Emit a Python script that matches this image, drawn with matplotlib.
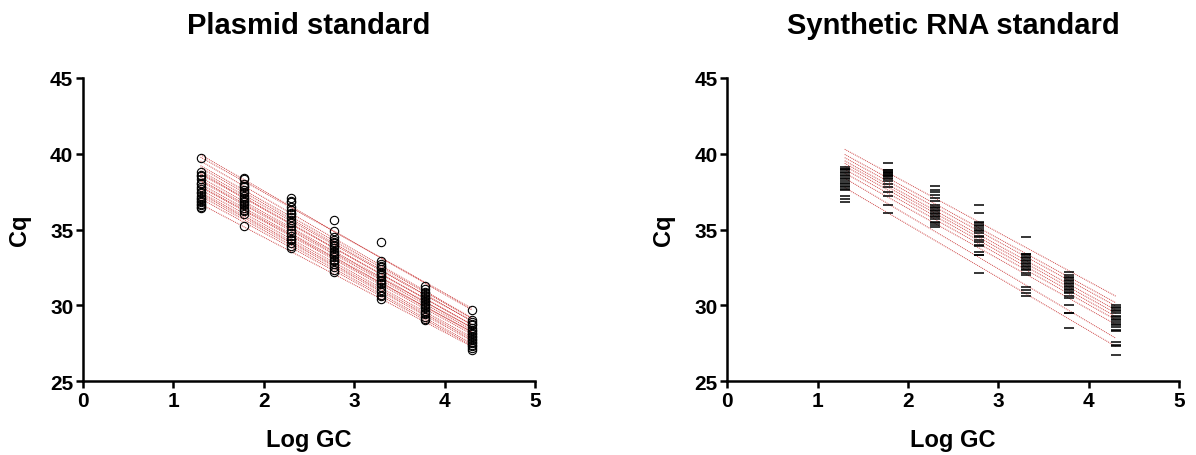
import numpy as np
import matplotlib
matplotlib.use("Agg")
import matplotlib.pyplot as plt

plt.rcParams['font.family'] = ['Liberation Sans', 'DejaVu Sans']
plt.rcParams['font.weight'] = 'bold'

# log10 of gene copies for each dilution level
log_gc = [1.30, 1.78, 2.30, 2.78, 3.30, 3.78, 4.30]

# plasmid standard: one row per run (Cq at each level)
plasmid_cq = [
    [39.7, 38.0, 36.9, 35.6, 32.9, 31.1, 29.7],
    [38.8, 38.4, 37.1, 34.9, 34.2, 31.3, 29.0],
    [38.6, 38.3, 36.8, 34.5, 32.7, 30.9, 28.8],
    [38.5, 37.9, 36.5, 34.3, 32.5, 30.8, 28.9],
    [38.3, 37.8, 36.3, 34.2, 32.4, 30.6, 28.7],
    [38.1, 37.6, 36.1, 34.0, 32.6, 30.7, 28.5],
    [38.0, 37.4, 36.0, 33.9, 32.2, 30.4, 28.4],
    [37.8, 37.5, 35.8, 34.1, 32.0, 30.5, 28.3],
    [37.7, 37.2, 35.6, 33.8, 31.9, 30.2, 28.2],
    [37.5, 37.1, 35.4, 33.6, 32.1, 30.3, 28.0],
    [37.4, 37.0, 35.5, 33.5, 31.7, 30.0, 28.1],
    [37.2, 36.9, 35.2, 33.3, 31.6, 29.9, 27.9],
    [37.1, 36.7, 35.0, 33.4, 31.4, 30.1, 27.8],
    [37.0, 36.8, 34.8, 33.2, 31.5, 29.8, 27.7],
    [36.9, 36.6, 34.6, 33.0, 31.2, 29.6, 27.6],
    [36.8, 36.4, 34.4, 32.9, 31.0, 29.5, 27.5],
    [36.7, 36.3, 34.3, 32.7, 30.9, 29.4, 27.4],
    [36.6, 36.2, 34.1, 32.5, 30.7, 29.2, 27.3],
    [36.5, 36.0, 33.9, 32.3, 30.6, 29.1, 27.2],
    [36.4, 35.2, 33.8, 32.2, 30.4, 29.0, 27.05],
]

# synthetic RNA standard: two replicates per run
rna_rep1 = [
    [39.1, 39.4, 37.9, 36.6, 34.5, 32.2, 30.0],
    [39.0, 38.9, 37.5, 35.5, 33.4, 31.9, 29.8],
    [38.8, 38.8, 37.1, 35.3, 33.2, 31.7, 29.6],
    [38.6, 38.7, 36.6, 35.1, 33.0, 31.5, 29.3],
    [38.4, 38.6, 36.4, 34.9, 32.8, 31.3, 29.1],
    [38.2, 38.5, 36.2, 34.6, 32.6, 31.1, 28.9],
    [38.0, 38.3, 36.0, 34.3, 32.4, 30.9, 28.7],
    [37.8, 38.0, 35.8, 34.0, 32.1, 30.6, 28.4],
    [37.6, 37.5, 35.5, 33.5, 31.2, 30.0, 27.6],
    [36.8, 36.6, 35.3, 33.3, 30.8, 29.5, 27.3],
]
rna_rep2 = [
    [39.0, 38.9, 37.6, 36.1, 33.4, 32.0, 29.9],
    [38.9, 38.8, 37.3, 35.4, 33.3, 31.8, 29.7],
    [38.7, 38.7, 36.9, 35.2, 33.1, 31.6, 29.5],
    [38.5, 38.6, 36.5, 35.0, 32.9, 31.4, 29.2],
    [38.3, 38.5, 36.3, 34.8, 32.7, 31.2, 29.0],
    [38.1, 38.4, 36.1, 34.5, 32.5, 31.0, 28.8],
    [37.9, 38.2, 35.9, 34.2, 32.3, 30.8, 28.6],
    [37.7, 37.8, 35.7, 33.9, 32.0, 30.5, 28.3],
    [37.2, 37.2, 35.4, 33.3, 31.0, 29.5, 27.4],
    [37.0, 36.1, 35.15, 32.1, 30.6, 28.5, 26.7],
]

line_color = '#c83030'
x = np.array(log_gc)
xe = np.array([x.min(), x.max()])

fig = plt.figure(figsize=(11.96, 4.56), dpi=100)
ax1 = fig.add_axes([0.0694, 0.162, 0.378, 0.665])
ax2 = fig.add_axes([0.608, 0.162, 0.378, 0.665])

# plasmid
for run in plasmid_cq:
    y = np.array(run)
    k, b = np.polyfit(x, y, 1)
    ax1.plot(xe, k * xe + b, color=line_color, lw=0.7, ls=(0, (1, 1)), alpha=0.9, zorder=1)
for run in plasmid_cq:
    ax1.plot(x, run, 'o', ms=6, mfc='none', mec='black', mew=0.8, ls='none', zorder=2)

# synthetic RNA
for r1, r2 in zip(rna_rep1, rna_rep2):
    xx = np.concatenate([x, x])
    yy = np.concatenate([r1, r2])
    k, b = np.polyfit(xx, yy, 1)
    ax2.plot(xe, k * xe + b, color=line_color, lw=0.7, ls=(0, (1, 1)), alpha=0.9, zorder=1)
for r1, r2 in zip(rna_rep1, rna_rep2):
    ax2.plot(x, r1, '_', ms=7.5, mec='black', mew=1.1, ls='none', zorder=2)
    ax2.plot(x, r2, '_', ms=7.5, mec='black', mew=1.1, ls='none', zorder=2)

for ax, title in [(ax1, 'Plasmid standard'), (ax2, 'Synthetic RNA standard')]:
    ax.set_xlim(0, 5)
    ax.set_ylim(25, 45)
    ax.set_xticks([0, 1, 2, 3, 4, 5])
    ax.set_yticks([25, 30, 35, 40, 45])
    ax.spines['top'].set_visible(False)
    ax.spines['right'].set_visible(False)
    ax.spines['left'].set_linewidth(1.8)
    ax.spines['bottom'].set_linewidth(1.8)
    ax.tick_params(width=1.8, length=5, labelsize=15, pad=2)
    for lab in ax.get_xticklabels() + ax.get_yticklabels():
        lab.set_fontweight('bold')
    ax.set_xlabel('Log GC', fontsize=17, fontweight='bold', labelpad=13)
    ax.set_ylabel('Cq', fontsize=17, fontweight='bold', labelpad=14)
    ax.set_title(title, fontsize=21, fontweight='bold', pad=32)

fig.savefig('out.png', dpi=100)
